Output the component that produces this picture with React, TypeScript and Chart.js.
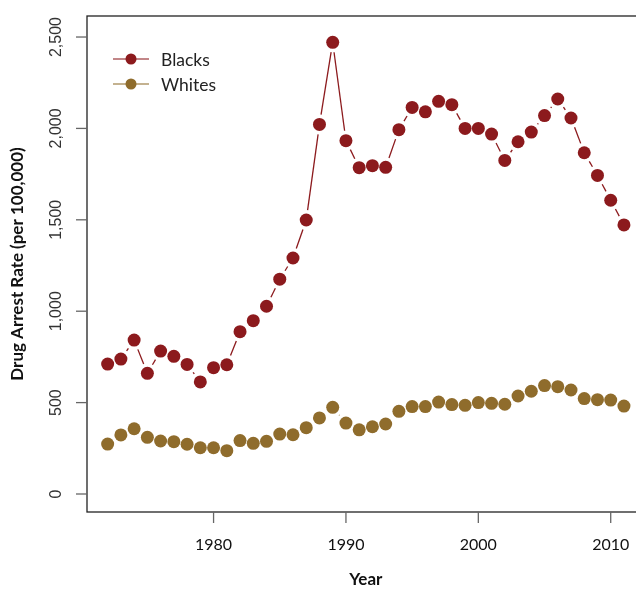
import React, { useEffect, useRef } from "react";
import { Chart, registerables } from "chart.js";

Chart.register(...registerables);

const years: number[] = [
  1972, 1973, 1974, 1975, 1976, 1977, 1978, 1979, 1980, 1981,
  1982, 1983, 1984, 1985, 1986, 1987, 1988, 1989, 1990, 1991,
  1992, 1993, 1994, 1995, 1996, 1997, 1998, 1999, 2000, 2001,
  2002, 2003, 2004, 2005, 2006, 2007, 2008, 2009, 2010, 2011,
];

const blacks: number[] = [
  711, 738, 842, 660, 782, 753, 709, 613, 691, 707,
  888, 948, 1027, 1175, 1291, 1499, 2022, 2471, 1933, 1785,
  1796, 1787, 1993, 2115, 2091, 2148, 2130, 2000, 2000, 1969,
  1825, 1927, 1980, 2070, 2161, 2057, 1867, 1743, 1607, 1472,
];

const whites: number[] = [
  273, 323, 357, 310, 290, 286, 272, 253, 253, 237,
  292, 277, 288, 328, 324, 363, 416, 474, 388, 351,
  368, 383, 452, 478, 478, 503, 489, 485, 500, 496,
  491, 536, 562, 593, 587, 569, 522, 516, 514, 481,
];

const seriesNames: string[] = ["Blacks", "Whites"];
const xTicks: number[] = [1980, 1990, 2000, 2010];
const yTicks: number[] = [0, 500, 1000, 1500, 2000, 2500];
const xTitle = "Year";
const yTitle = "Drug Arrest Rate (per 100,000)";

const COLORS = ["#8c1a1d", "#8f6c2c"];
const LEGEND_LINE = ["rgba(140,26,29,0.7)", "rgba(143,108,44,0.7)"];
const X_MIN = 1970.44;
const X_MAX = 2011.91;
const X_CENTER = (1970.44 + 2012.56) / 2;
const Y_MIN = -98.5;
const Y_MAX = 2615;
const POINT_R = 6.5;
const GAP = 10;

const fmt = (v: number) => v.toLocaleString("en-US");

const gapLines = {
  id: "gapLines",
  beforeDatasetsDraw(chart: any) {
    const ctx = chart.ctx;
    ctx.save();
    chart.data.datasets.forEach((ds: any, i: number) => {
      const meta = chart.getDatasetMeta(i);
      const pts = meta.data;
      ctx.strokeStyle = ds.lineColor;
      ctx.lineWidth = 1.3;
      for (let k = 0; k < pts.length - 1; k++) {
        const a = pts[k];
        const b = pts[k + 1];
        const dx = b.x - a.x;
        const dy = b.y - a.y;
        const d = Math.hypot(dx, dy);
        if (d <= 2 * GAP) continue;
        const ux = dx / d;
        const uy = dy / d;
        ctx.beginPath();
        ctx.moveTo(a.x + ux * GAP, a.y + uy * GAP);
        ctx.lineTo(b.x - ux * GAP, b.y - uy * GAP);
        ctx.stroke();
      }
    });
    ctx.restore();
  },
};

const rAxes = {
  id: "rAxes",
  afterDraw(chart: any) {
    const ctx = chart.ctx;
    const { left, top, bottom } = chart.chartArea;
    const xs = chart.scales.x;
    const ys = chart.scales.y;
    ctx.save();
    // box
    ctx.strokeStyle = "#222";
    ctx.lineWidth = 1.3;
    const boxRight = xs.getPixelForValue(2012.56);
    ctx.strokeRect(left, top, boxRight - left, bottom - top);

    // y ticks
    ctx.strokeStyle = "#666";
    ctx.lineWidth = 1.3;
    ctx.fillStyle = "#333";
    ctx.font = '16px "Liberation Sans", Arial, sans-serif';
    ctx.textAlign = "center";
    ctx.textBaseline = "middle";
    yTicks.forEach((v) => {
      const py = ys.getPixelForValue(v);
      ctx.beginPath();
      ctx.moveTo(left - 11, py);
      ctx.lineTo(left, py);
      ctx.stroke();
      ctx.save();
      ctx.translate(left - 30, py);
      ctx.rotate(-Math.PI / 2);
      ctx.fillText(fmt(v), 0, 0);
      ctx.restore();
    });

    // x ticks
    ctx.fillStyle = "#111";
    ctx.font = '16px Lato, "Noto Sans", sans-serif';
    xTicks.forEach((v) => {
      const px = xs.getPixelForValue(v);
      ctx.beginPath();
      ctx.moveTo(px, bottom);
      ctx.lineTo(px, bottom + 11);
      ctx.stroke();
      ctx.fillText(String(v), px, bottom + 33);
    });

    // titles
    ctx.fillStyle = "#111";
    ctx.font = 'bold 17px Lato, "Noto Sans", sans-serif';
    ctx.fillText(xTitle, xs.getPixelForValue(X_CENTER), bottom + 68);
    ctx.save();
    ctx.translate(18, (top + bottom) / 2);
    ctx.rotate(-Math.PI / 2);
    ctx.fillText(yTitle, 0, 0);
    ctx.restore();

    // legend
    ctx.font = '17.5px Lato, "Noto Sans", sans-serif';
    ctx.textAlign = "left";
    seriesNames.forEach((name, i) => {
      const ly = top + 43 + i * 25;
      const lx = left + 44;
      ctx.strokeStyle = LEGEND_LINE[i];
      ctx.lineWidth = 1.5;
      ctx.beginPath();
      ctx.moveTo(lx - 18, ly);
      ctx.lineTo(lx + 18, ly);
      ctx.stroke();
      ctx.fillStyle = COLORS[i];
      ctx.beginPath();
      ctx.arc(lx, ly, 5.5, 0, Math.PI * 2);
      ctx.fill();
      ctx.fillStyle = "#222";
      ctx.fillText(name, lx + 30, ly + 1);
    });
    ctx.restore();
  },
};

export default function App() {
  const ref = useRef<HTMLCanvasElement | null>(null);
  useEffect(() => {
    if (!ref.current) return;
    const series = [blacks, whites];
    const chart = new Chart(ref.current, {
      type: "line",
      data: {
        datasets: series.map((vals, i) => ({
          label: seriesNames[i],
          data: years.map((yr, k) => ({ x: yr, y: vals[k] })),
          showLine: false,
          pointRadius: POINT_R,
          pointBackgroundColor: COLORS[i],
          pointBorderWidth: 0,
          borderColor: COLORS[i],
          lineColor: COLORS[i],
        })) as any,
      },
      options: {
        responsive: false,
        animation: false,
        events: [],
        layout: { autoPadding: false, padding: { left: 87, top: 16, right: 0, bottom: 77 } },
        plugins: { legend: { display: false }, tooltip: { enabled: false } },
        scales: {
          x: { type: "linear", min: X_MIN, max: X_MAX, display: false },
          y: { type: "linear", min: Y_MIN, max: Y_MAX, display: false },
        },
      },
      plugins: [gapLines, rAxes],
    });
    return () => chart.destroy();
  }, []);
  return (
    <div style={{ position: "fixed", left: 0, top: 0, width: 636, height: 589, background: "#fff" }}>
      <canvas ref={ref} width={636} height={589} />
    </div>
  );
}
